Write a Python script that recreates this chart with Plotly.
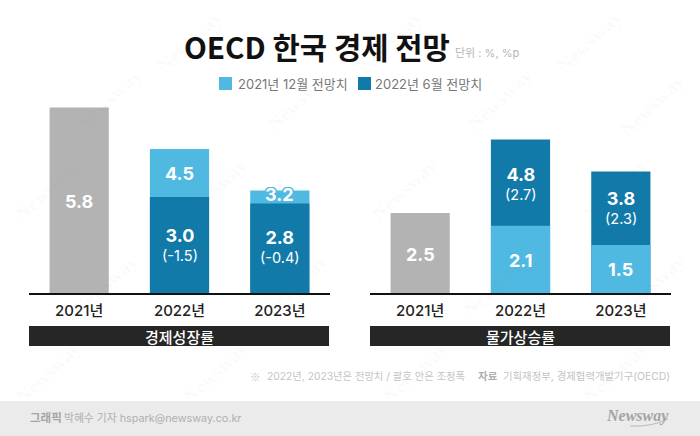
import plotly.graph_objects as go

FONT = "Inter, Noto Sans CJK KR"
KR_FONT = "Noto Sans CJK KR"
GRAY = "#b3b3b3"
LIGHT = "#4fb9e1"
DARK = "#117aa9"

years = ["2021년", "2022년", "2023년"]

# 경제성장률
growth_2021 = [5.8, None, None]
growth_dec = [None, 4.5, 3.2]
growth_jun = [None, 3.0, 2.8]
growth_adj = [None, "(-1.5)", "(-0.4)"]

# 물가상승률
price_2021 = [2.5, None, None]
price_dec = [None, 2.1, 1.5]
price_jun = [None, 4.8, 3.8]
price_adj = [None, "(2.7)", "(2.3)"]

W, H = 700, 436


def px_x(v):
    return v / W


def px_y(v):
    return 1 - v / H


fig = go.Figure()


def bar(values, color, xaxis):
    fig.add_trace(go.Bar(x=years, y=values, marker=dict(color=color, line_width=0),
                         xaxis=xaxis, yaxis=xaxis.replace("x", "y"),
                         showlegend=False, hoverinfo="skip"))


bar(growth_2021, GRAY, "x")
bar(growth_dec, LIGHT, "x")
bar(growth_jun, DARK, "x")
bar(price_2021, GRAY, "x2")
bar(price_jun, DARK, "x2")
bar(price_dec, LIGHT, "x2")


def value_label(axis, year, mid, value, sub=None, shift=0, shadow=None):
    yref = axis.replace("x", "y")
    f = dict(family=FONT, size=18, color="white", weight=700)
    if shadow:
        f["shadow"] = shadow
    label = f"{value}"
    if sub is not None:
        # same annotation for both lines, line height follows the base size
        f = dict(family=FONT, size=14.5, color="white")
        label = f"<span style='font-size:18px;font-weight:700'>{value}</span><br>{sub}"
    fig.add_annotation(x=year, y=mid, xref=axis, yref=yref, text=label, showarrow=False,
                       font=f, yshift=shift)


halo = ", ".join(f"{dx}px {dy}px 0 {LIGHT}" for dx, dy in
                 [(1.5, 0), (-1.5, 0), (0, 1.5), (0, -1.5), (1, 1), (-1, -1), (1, -1), (-1, 1)])

value_label("x", years[0], growth_2021[0] / 2, growth_2021[0], shift=-1.5)
value_label("x", years[1], (growth_dec[1] + growth_jun[1]) / 2, growth_dec[1], shift=-1)
value_label("x", years[2], (growth_dec[2] + growth_jun[2]) / 2, growth_dec[2], shift=2, shadow=halo)
value_label("x", years[1], growth_jun[1] / 2, f"{growth_jun[1]:.1f}", growth_adj[1])
value_label("x", years[2], growth_jun[2] / 2, growth_jun[2], growth_adj[2], shift=2)
value_label("x2", years[0], price_2021[0] / 2, price_2021[0], shift=-2)
value_label("x2", years[1], price_dec[1] / 2, price_dec[1], shift=-1)
value_label("x2", years[2], price_dec[2] / 2, price_dec[2])
value_label("x2", years[1], (price_jun[1] + price_dec[1]) / 2, price_jun[1], price_adj[1], shift=-1)
value_label("x2", years[2], (price_jun[2] + price_dec[2]) / 2, price_jun[2], price_adj[2], shift=1)


def text(x, y, s, size, color, anchor="left", family=FONT, weight=None, **kw):
    fig.add_annotation(x=px_x(x), y=px_y(y), xref="paper", yref="paper", text=s, showarrow=False,
                       xanchor=anchor, yanchor="middle",
                       font=dict(family=family, size=size, color=color, weight=weight), **kw)


# watermarks
for wx, wy in [(190, 42), (390, 42), (590, 42), (110, 100), (300, 100), (500, 100), (652, 105),
               (48, 190), (215, 190), (405, 190), (615, 190), (105, 285), (295, 285), (495, 285),
               (652, 285), (48, 372), (215, 372), (415, 372), (615, 372)]:
    text(wx, wy, "Newsway", 20, "rgba(120,120,120,0.04)", "center", family="Liberation Serif",
         weight=700, textangle=-43)

text(181.5, 47, "OECD 한국 경제 전망", 29.7, "#111111", family=KR_FONT, weight=700)
text(453, 53, "단위 : %, %p", 11, "#b5b5b5")

fig.add_shape(type="rect", xref="paper", yref="paper", x0=px_x(219), x1=px_x(232), y0=px_y(77), y1=px_y(90),
              fillcolor=LIGHT, line_width=0)
text(235.5, 84, "2021년 12월 전망치", 13, "#777777")
fig.add_shape(type="rect", xref="paper", yref="paper", x0=px_x(358), x1=px_x(371), y0=px_y(77), y1=px_y(90),
              fillcolor=DARK, line_width=0)
text(372.5, 84, "2022년 6월 전망치", 13, "#777777")

# band under each chart
for x0, x1, label in [(29, 329, "경제성장률"), (370, 670, "물가상승률")]:
    fig.add_shape(type="rect", xref="paper", yref="paper", x0=px_x(x0), x1=px_x(x1), y0=px_y(326), y1=px_y(346),
                  fillcolor="#262626", line_width=0)
    text((x0 + x1) / 2, 336, label, 15, "white", "center", family=KR_FONT, weight=500)

text(248, 376, "※", 10.5, "#c4c4c4", family=KR_FONT)
text(265, 376, "2022년, 2023년은 전망치 / 괄호 안은 조정폭", 10.3, "#c4c4c4")
text(476, 376, "<b>자료</b>", 10.5, "#b0b0b0")
text(501, 376, "기획재정부, 경제협력개발기구(OECD)", 10.4, "#c4c4c4")

# footer
fig.add_shape(type="rect", xref="paper", yref="paper", x0=0, x1=1, y0=px_y(401), y1=px_y(436),
              fillcolor="#ebebeb", line_width=0, layer="below")
text(28, 418, "<b>그래픽</b>", 11.5, "#a5a5a5")
text(62, 418, "박혜수 기자 hspark@newsway.co.kr", 10.8, "#b0b0b0")
text(604, 416, "<b><i>Newsway</i></b>", 16, "#a4a4a4", family="Liberation Serif")
fig.add_shape(type="path", xref="paper", yref="paper",
              path=f"M {px_x(630)},{px_y(426)} Q {px_x(652)},{px_y(427)} {px_x(668)},{px_y(419)}",
              line=dict(color="#b8b8b8", width=1))

axis_style = dict(showline=True, linecolor="#111111", linewidth=1.5, ticks="", showgrid=False, fixedrange=True,
                  type="category", categoryorder="array", categoryarray=years,
                  tickfont=dict(family=FONT, size=15, color="#222222", weight=500), ticklabelstandoff=3)
yaxis_style = dict(range=[0, 6.125], visible=False, fixedrange=True)

fig.update_layout(
    width=W, height=H, margin=dict(l=0, r=0, t=0, b=0),
    paper_bgcolor="white", plot_bgcolor="rgba(0,0,0,0)",
    barmode="overlay", bargap=0.41, showlegend=False,
    xaxis=dict(domain=[px_x(29), px_x(330)], anchor="y", **axis_style),
    xaxis2=dict(domain=[px_x(370), px_x(671)], anchor="y2", **axis_style),
    yaxis=dict(domain=[px_y(293), px_y(97)], anchor="x", **yaxis_style),
    yaxis2=dict(domain=[px_y(293), px_y(97)], anchor="x2", **yaxis_style),
)

# page default margin would push the chart 8px off
fig.write_html("out.html", config=dict(displayModeBar=False), post_script="document.body.style.margin='0';")
